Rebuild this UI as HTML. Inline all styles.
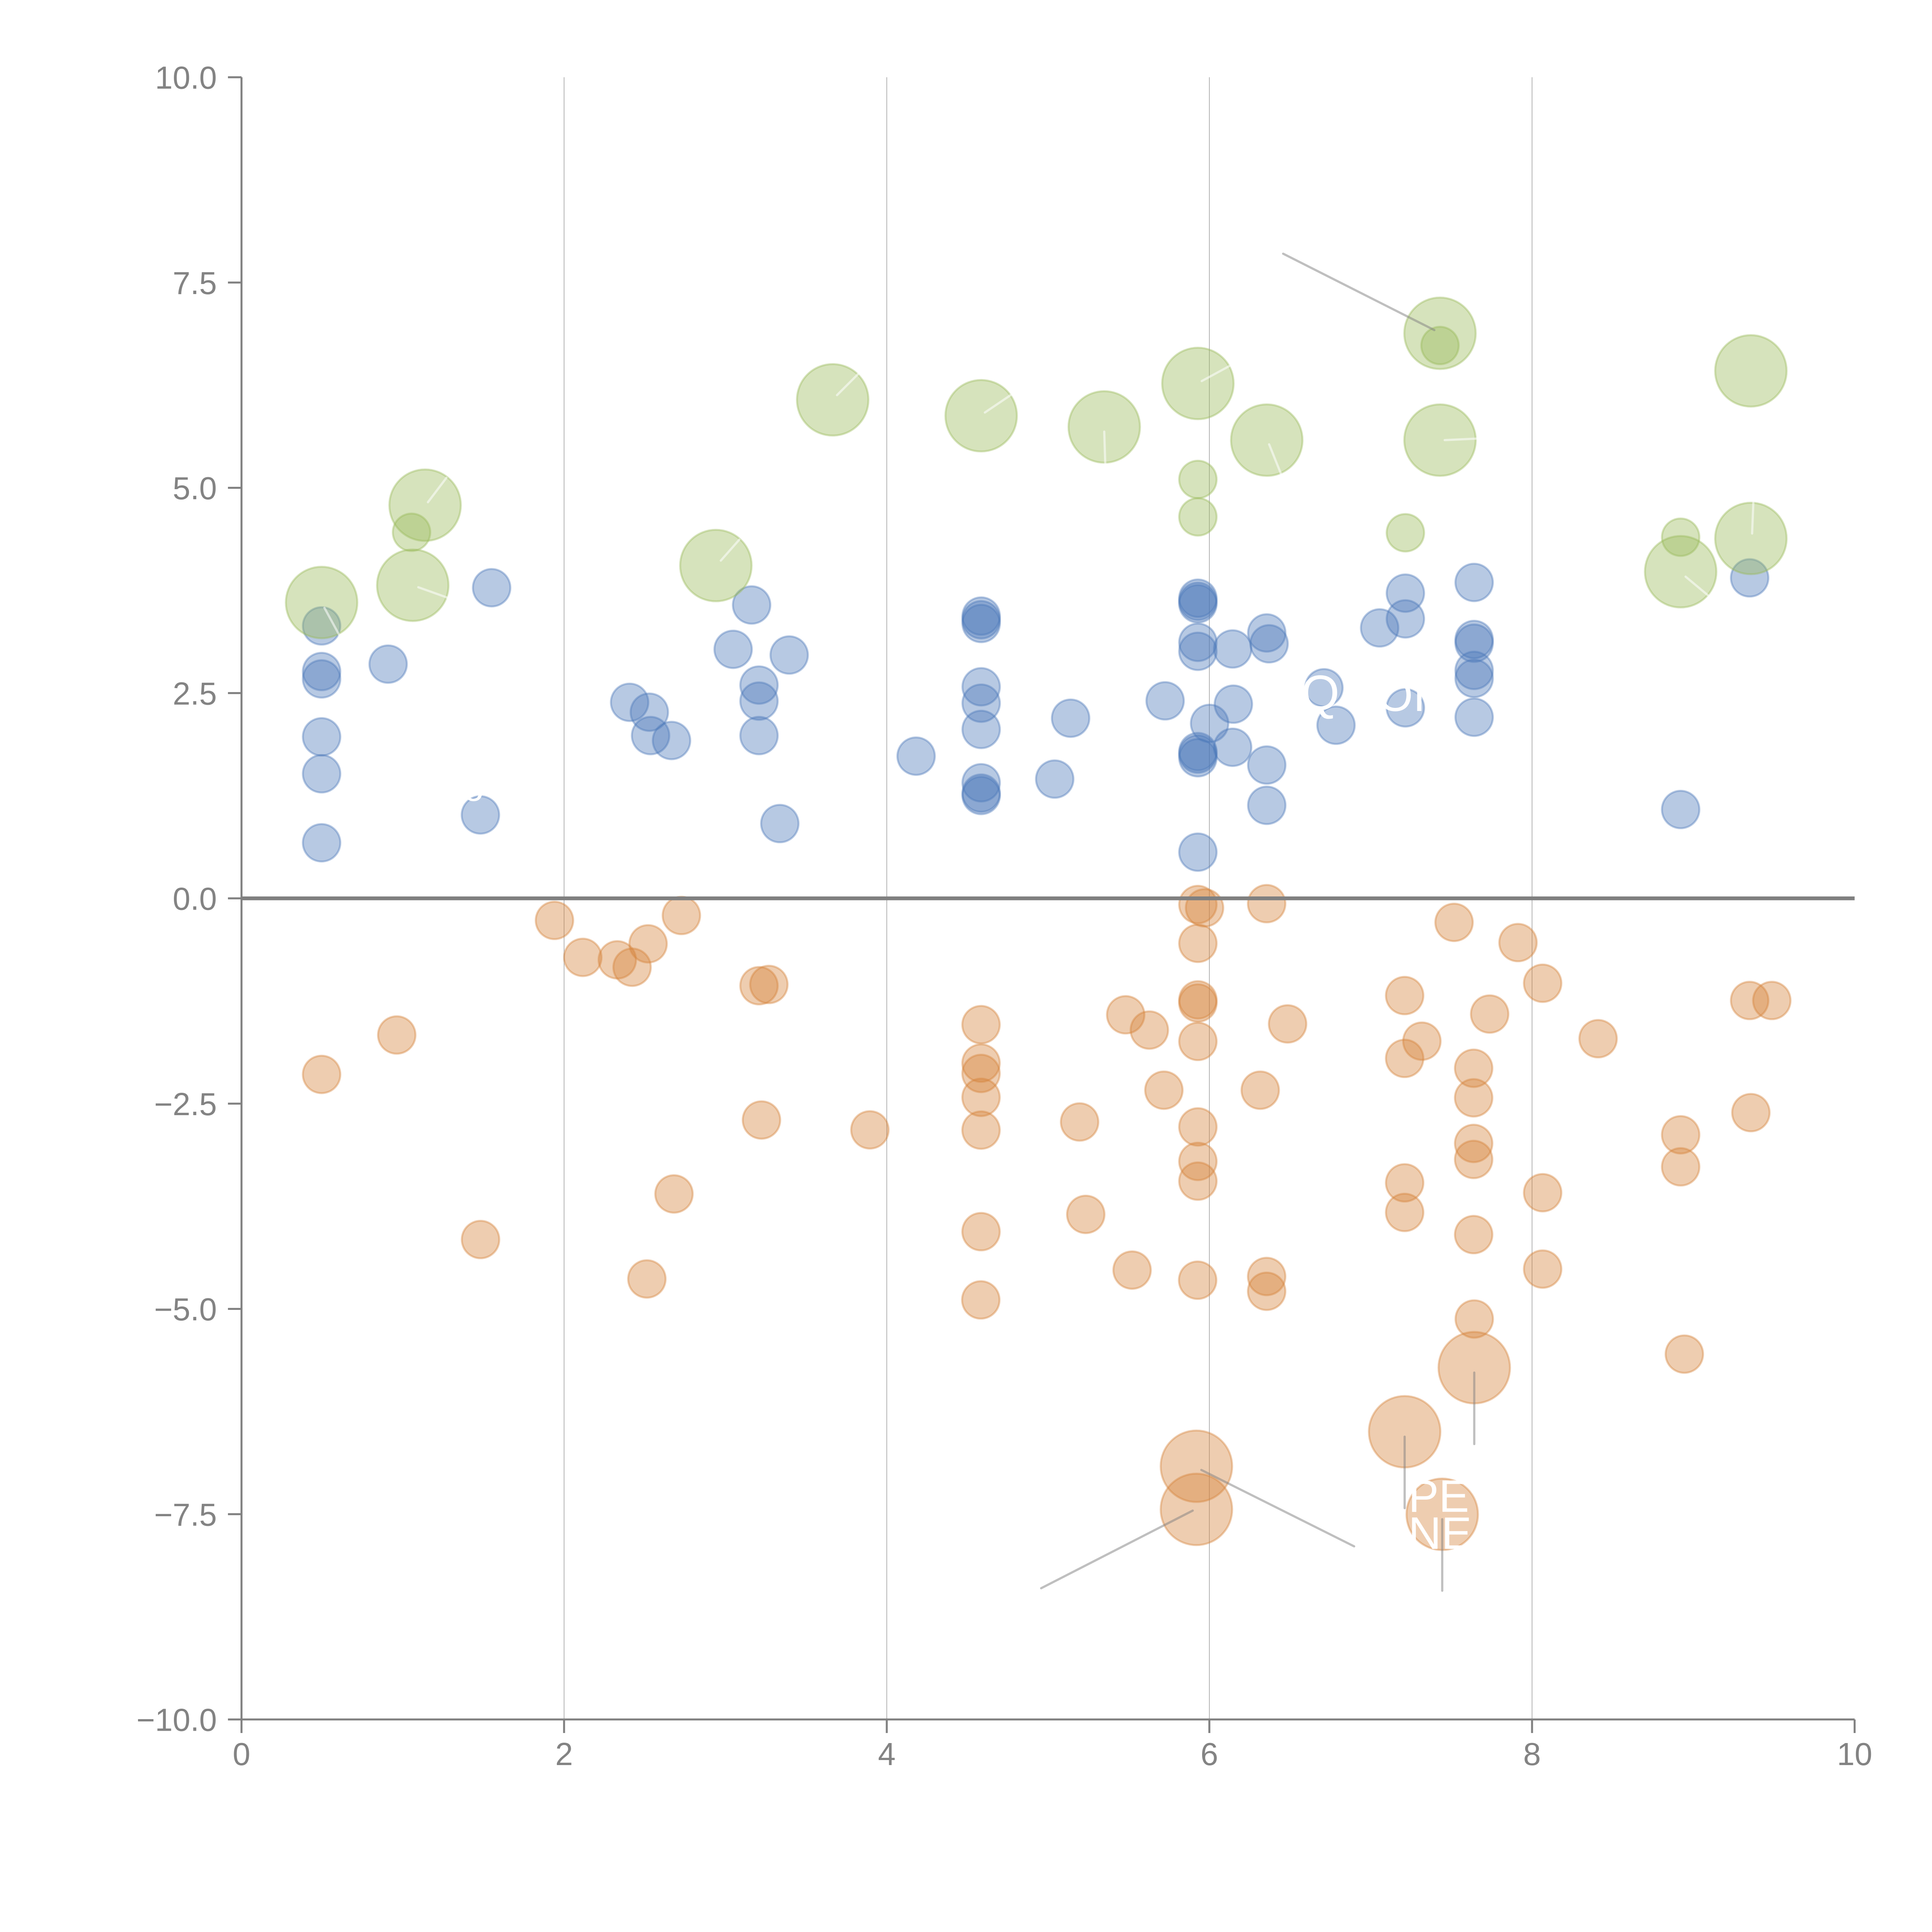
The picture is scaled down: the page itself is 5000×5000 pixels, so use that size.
<!DOCTYPE html>
<html>
<head>
<meta charset="utf-8">
<style>
html,body{margin:0;padding:0;background:#fff;}
svg{display:block;}
text{font-family:"Liberation Sans",Arial,sans-serif;}
</style>
</head>
<body>
<svg xmlns="http://www.w3.org/2000/svg" width="5000" height="5000" viewBox="0 0 1568 1568">
<rect x="0" y="0" width="1568" height="1568" fill="#fff"/>
<g stroke="#777" stroke-width="0.35">
<line x1="457.8" y1="62.7" x2="457.8" y2="1395.5"/>
<line x1="719.7" y1="62.7" x2="719.7" y2="1395.5"/>
<line x1="981.5" y1="62.7" x2="981.5" y2="1395.5"/>
<line x1="1243.4" y1="62.7" x2="1243.4" y2="1395.5"/>
</g>
<g fill="#4a78b9" fill-opacity="0.4" stroke="#4a78b9" stroke-opacity="0.4" stroke-width="1.6">
<circle cx="261" cy="508" r="15.2"/>
<circle cx="261" cy="545" r="15.2"/>
<circle cx="261" cy="551" r="15.2"/>
<circle cx="261" cy="598" r="15.2"/>
<circle cx="261" cy="628" r="15.2"/>
<circle cx="261" cy="684" r="15.2"/>
<circle cx="315" cy="539" r="15.2"/>
<circle cx="399" cy="477" r="15.2"/>
<circle cx="389.9" cy="661.4" r="15.2"/>
<circle cx="511" cy="570" r="15.2"/>
<circle cx="527" cy="578" r="15.2"/>
<circle cx="528" cy="597" r="15.2"/>
<circle cx="545" cy="601" r="15.2"/>
<circle cx="595" cy="527" r="15.2"/>
<circle cx="610" cy="491" r="15.2"/>
<circle cx="616" cy="556" r="15.2"/>
<circle cx="616" cy="569" r="15.2"/>
<circle cx="616" cy="597" r="15.2"/>
<circle cx="640.5" cy="531.6" r="15.2"/>
<circle cx="632.9" cy="668.4" r="15.2"/>
<circle cx="743.5" cy="613.7" r="15.2"/>
<circle cx="796.3" cy="500" r="15.2"/>
<circle cx="796.3" cy="503" r="15.2"/>
<circle cx="796.3" cy="506" r="15.2"/>
<circle cx="796.3" cy="557.4" r="15.2"/>
<circle cx="796.3" cy="570.7" r="15.2"/>
<circle cx="796.3" cy="592" r="15.2"/>
<circle cx="796.3" cy="635.3" r="15.2"/>
<circle cx="796.3" cy="643.7" r="15.2"/>
<circle cx="796.3" cy="645.6" r="15.2"/>
<circle cx="856" cy="632.3" r="15.2"/>
<circle cx="868.9" cy="582.9" r="15.2"/>
<circle cx="945.6" cy="568.8" r="15.2"/>
<circle cx="972.2" cy="485.5" r="15.2"/>
<circle cx="972.2" cy="488" r="15.2"/>
<circle cx="972.2" cy="490" r="15.2"/>
<circle cx="972.2" cy="521.3" r="15.2"/>
<circle cx="972.2" cy="528.6" r="15.2"/>
<circle cx="972.2" cy="610" r="15.2"/>
<circle cx="972.2" cy="612" r="15.2"/>
<circle cx="972.2" cy="615" r="15.2"/>
<circle cx="972.2" cy="691.6" r="15.2"/>
<circle cx="981.7" cy="587.1" r="15.2"/>
<circle cx="1000.4" cy="526.7" r="15.2"/>
<circle cx="1001" cy="571.5" r="15.2"/>
<circle cx="1000.4" cy="606.5" r="15.2"/>
<circle cx="1028.1" cy="513.7" r="15.2"/>
<circle cx="1030" cy="522.5" r="15.2"/>
<circle cx="1028.1" cy="620.9" r="15.2"/>
<circle cx="1028.1" cy="653.6" r="15.2"/>
<circle cx="1074.5" cy="558.2" r="15.2"/>
<circle cx="1084.3" cy="588.6" r="15.2"/>
<circle cx="1119.7" cy="509.6" r="15.2"/>
<circle cx="1140.6" cy="481.4" r="15.2"/>
<circle cx="1140.6" cy="502.3" r="15.2"/>
<circle cx="1140.6" cy="574.5" r="15.2"/>
<circle cx="1196.4" cy="472.7" r="15.2"/>
<circle cx="1196.4" cy="519" r="15.2"/>
<circle cx="1196.4" cy="522" r="15.2"/>
<circle cx="1196.4" cy="544.1" r="15.2"/>
<circle cx="1196.4" cy="550.6" r="15.2"/>
<circle cx="1196.4" cy="582.1" r="15.2"/>
<circle cx="1364" cy="657" r="15.2"/>
<circle cx="1420" cy="469" r="15.2"/>
</g>
<g fill="#98b957" fill-opacity="0.4" stroke="#98b957" stroke-opacity="0.4" stroke-width="1.6">
<circle cx="261" cy="489" r="29"/>
<circle cx="345" cy="410" r="29"/>
<circle cx="335" cy="475" r="29"/>
<circle cx="581" cy="459" r="29"/>
<circle cx="675.8" cy="324.5" r="29"/>
<circle cx="796.3" cy="337.4" r="29"/>
<circle cx="896.2" cy="346.5" r="29"/>
<circle cx="972.2" cy="311.2" r="29"/>
<circle cx="1028.1" cy="357.2" r="29"/>
<circle cx="1168.7" cy="270.5" r="29"/>
<circle cx="1168.7" cy="357.2" r="29"/>
<circle cx="1421" cy="301" r="29"/>
<circle cx="1421" cy="437" r="29"/>
<circle cx="1364" cy="464" r="29"/>
<circle cx="334" cy="432" r="15.2"/>
<circle cx="972.2" cy="389.1" r="15.2"/>
<circle cx="972.2" cy="419.5" r="15.2"/>
<circle cx="1140.6" cy="432.4" r="15.2"/>
<circle cx="1168.7" cy="280.4" r="15.2"/>
<circle cx="1364" cy="436" r="15.2"/>
</g>
<g fill="#d48239" fill-opacity="0.4" stroke="#d48239" stroke-opacity="0.4" stroke-width="1.6">
<circle cx="450" cy="747" r="15.2"/>
<circle cx="473" cy="777" r="15.2"/>
<circle cx="501" cy="779" r="15.2"/>
<circle cx="513" cy="785" r="15.2"/>
<circle cx="526" cy="766" r="15.2"/>
<circle cx="553" cy="743" r="15.2"/>
<circle cx="322" cy="840" r="15.2"/>
<circle cx="261" cy="872" r="15.2"/>
<circle cx="390" cy="1006" r="15.2"/>
<circle cx="525" cy="1038" r="15.2"/>
<circle cx="547" cy="969" r="15.2"/>
<circle cx="616" cy="800" r="15.2"/>
<circle cx="624" cy="799" r="15.2"/>
<circle cx="618" cy="909" r="15.2"/>
<circle cx="706" cy="917" r="15.2"/>
<circle cx="796.2" cy="831.6" r="15.2"/>
<circle cx="796.2" cy="862.8" r="15.2"/>
<circle cx="796.2" cy="871.2" r="15.2"/>
<circle cx="796.2" cy="890.6" r="15.2"/>
<circle cx="796.2" cy="917.2" r="15.2"/>
<circle cx="796.2" cy="999.6" r="15.2"/>
<circle cx="796" cy="1055" r="15.2"/>
<circle cx="876.2" cy="910.6" r="15.2"/>
<circle cx="881.2" cy="985.6" r="15.2"/>
<circle cx="913.6" cy="823.6" r="15.2"/>
<circle cx="918.8" cy="1030.8" r="15.2"/>
<circle cx="932.8" cy="836" r="15.2"/>
<circle cx="944.6" cy="884.8" r="15.2"/>
<circle cx="972.2" cy="734.1" r="15.2"/>
<circle cx="977.6" cy="736.8" r="15.2"/>
<circle cx="972.2" cy="765.6" r="15.2"/>
<circle cx="972.2" cy="811.5" r="15.2"/>
<circle cx="972.2" cy="814" r="15.2"/>
<circle cx="972.2" cy="845.2" r="15.2"/>
<circle cx="972.2" cy="914.6" r="15.2"/>
<circle cx="972.2" cy="942.6" r="15.2"/>
<circle cx="972.2" cy="958.6" r="15.2"/>
<circle cx="972" cy="1039" r="15.2"/>
<circle cx="1022.8" cy="884.8" r="15.2"/>
<circle cx="1028" cy="733.4" r="15.2"/>
<circle cx="1028" cy="1036" r="15.2"/>
<circle cx="1028" cy="1048" r="15.2"/>
<circle cx="1045" cy="831" r="15.2"/>
<circle cx="1140" cy="808" r="15.2"/>
<circle cx="1140" cy="859" r="15.2"/>
<circle cx="1140" cy="960" r="15.2"/>
<circle cx="1140" cy="984" r="15.2"/>
<circle cx="1154" cy="845" r="15.2"/>
<circle cx="1180.1" cy="748.6" r="15.2"/>
<circle cx="1196" cy="867" r="15.2"/>
<circle cx="1196" cy="891" r="15.2"/>
<circle cx="1196" cy="928" r="15.2"/>
<circle cx="1196" cy="941" r="15.2"/>
<circle cx="1196" cy="1002" r="15.2"/>
<circle cx="1196.5" cy="1070.5" r="15.2"/>
<circle cx="1209" cy="823" r="15.2"/>
<circle cx="1232" cy="765" r="15.2"/>
<circle cx="1252" cy="798" r="15.2"/>
<circle cx="1252" cy="968" r="15.2"/>
<circle cx="1252" cy="1030" r="15.2"/>
<circle cx="1297" cy="843" r="15.2"/>
<circle cx="1364" cy="921" r="15.2"/>
<circle cx="1364" cy="947" r="15.2"/>
<circle cx="1367" cy="1099" r="15.2"/>
<circle cx="1420" cy="812" r="15.2"/>
<circle cx="1438" cy="812" r="15.2"/>
<circle cx="1421" cy="903" r="15.2"/>
<circle cx="1196.5" cy="1110" r="29"/>
<circle cx="1140" cy="1162" r="29"/>
<circle cx="971" cy="1190" r="29"/>
<circle cx="971" cy="1225" r="29"/>
<circle cx="1170.5" cy="1229" r="29"/>
</g>
<line x1="196" y1="729.1" x2="1505.2" y2="729.1" stroke="#808080" stroke-width="3.1"/>
<g stroke="#808080" stroke-opacity="0.5" stroke-width="1.8" stroke-linecap="round">
<line x1="1041.4" y1="205.9" x2="1164.1" y2="267.9"/>
<line x1="1196.5" y1="1114" x2="1196.5" y2="1172"/>
<line x1="1140" y1="1166" x2="1140" y2="1224"/>
<line x1="1170.5" y1="1233" x2="1170.5" y2="1291"/>
<line x1="975" y1="1193" x2="1099" y2="1255"/>
<line x1="968" y1="1226" x2="845" y2="1289"/>
</g>
<g stroke="#ffffff" stroke-opacity="0.55" stroke-width="1.8" stroke-linecap="round">
<line x1="263.3" y1="493.3" x2="275.3" y2="515.3"/>
<line x1="347.3" y1="407.6" x2="362.3" y2="387.8"/>
<line x1="339.5" y1="476.6" x2="363" y2="485"/>
<line x1="585" y1="455" x2="600" y2="438"/>
<line x1="679.3" y1="320.7" x2="696.4" y2="303.6"/>
<line x1="799.3" y1="334.8" x2="820.2" y2="320.7"/>
<line x1="896.2" y1="350.3" x2="897" y2="375.8"/>
<line x1="975.3" y1="309.3" x2="997.7" y2="297.1"/>
<line x1="1030" y1="360.6" x2="1039.5" y2="384.2"/>
<line x1="1172.5" y1="357.2" x2="1198" y2="356"/>
<line x1="1422" y1="433" x2="1423" y2="408"/>
<line x1="1368" y1="468" x2="1386" y2="483"/>
</g>
<g fill="#ffffff" font-size="37">
<text x="1056" y="576" font-size="40">Q</text>
<text x="1118" y="577">OI</text>
<text x="1143" y="1227">PE</text>
<text x="1143" y="1257">NE</text>
<text x="376" y="650" font-size="30">o</text>
</g>
<g stroke="#808080" stroke-width="1.6" fill="none">
<line x1="196" y1="62.7" x2="196" y2="1396.3"/>
<line x1="195.2" y1="1395.5" x2="1505.2" y2="1395.5"/>
<line x1="185" y1="62.7" x2="196" y2="62.7"/>
<line x1="185" y1="229.3" x2="196" y2="229.3"/>
<line x1="185" y1="395.9" x2="196" y2="395.9"/>
<line x1="185" y1="562.5" x2="196" y2="562.5"/>
<line x1="185" y1="729.1" x2="196" y2="729.1"/>
<line x1="185" y1="895.7" x2="196" y2="895.7"/>
<line x1="185" y1="1062.3" x2="196" y2="1062.3"/>
<line x1="185" y1="1228.9" x2="196" y2="1228.9"/>
<line x1="185" y1="1395.5" x2="196" y2="1395.5"/>
<line x1="196" y1="1395.5" x2="196" y2="1406.5"/>
<line x1="457.8" y1="1395.5" x2="457.8" y2="1406.5"/>
<line x1="719.7" y1="1395.5" x2="719.7" y2="1406.5"/>
<line x1="981.5" y1="1395.5" x2="981.5" y2="1406.5"/>
<line x1="1243.4" y1="1395.5" x2="1243.4" y2="1406.5"/>
<line x1="1505.2" y1="1395.5" x2="1505.2" y2="1406.5"/>
</g>
<g fill="#838383" font-size="25.8" text-anchor="end">
<text x="176" y="72">10.0</text>
<text x="176" y="238.6">7.5</text>
<text x="176" y="405.2">5.0</text>
<text x="176" y="571.8">2.5</text>
<text x="176" y="738.4">0.0</text>
<text x="176" y="905">−2.5</text>
<text x="176" y="1071.6">−5.0</text>
<text x="176" y="1238.2">−7.5</text>
<text x="176" y="1404.8">−10.0</text>
</g>
<g fill="#838383" font-size="25.8" text-anchor="middle">
<text x="196" y="1432.5">0</text>
<text x="457.8" y="1432.5">2</text>
<text x="719.7" y="1432.5">4</text>
<text x="981.5" y="1432.5">6</text>
<text x="1243.4" y="1432.5">8</text>
<text x="1505.2" y="1432.5">10</text>
</g>
</svg>
</body>
</html>
